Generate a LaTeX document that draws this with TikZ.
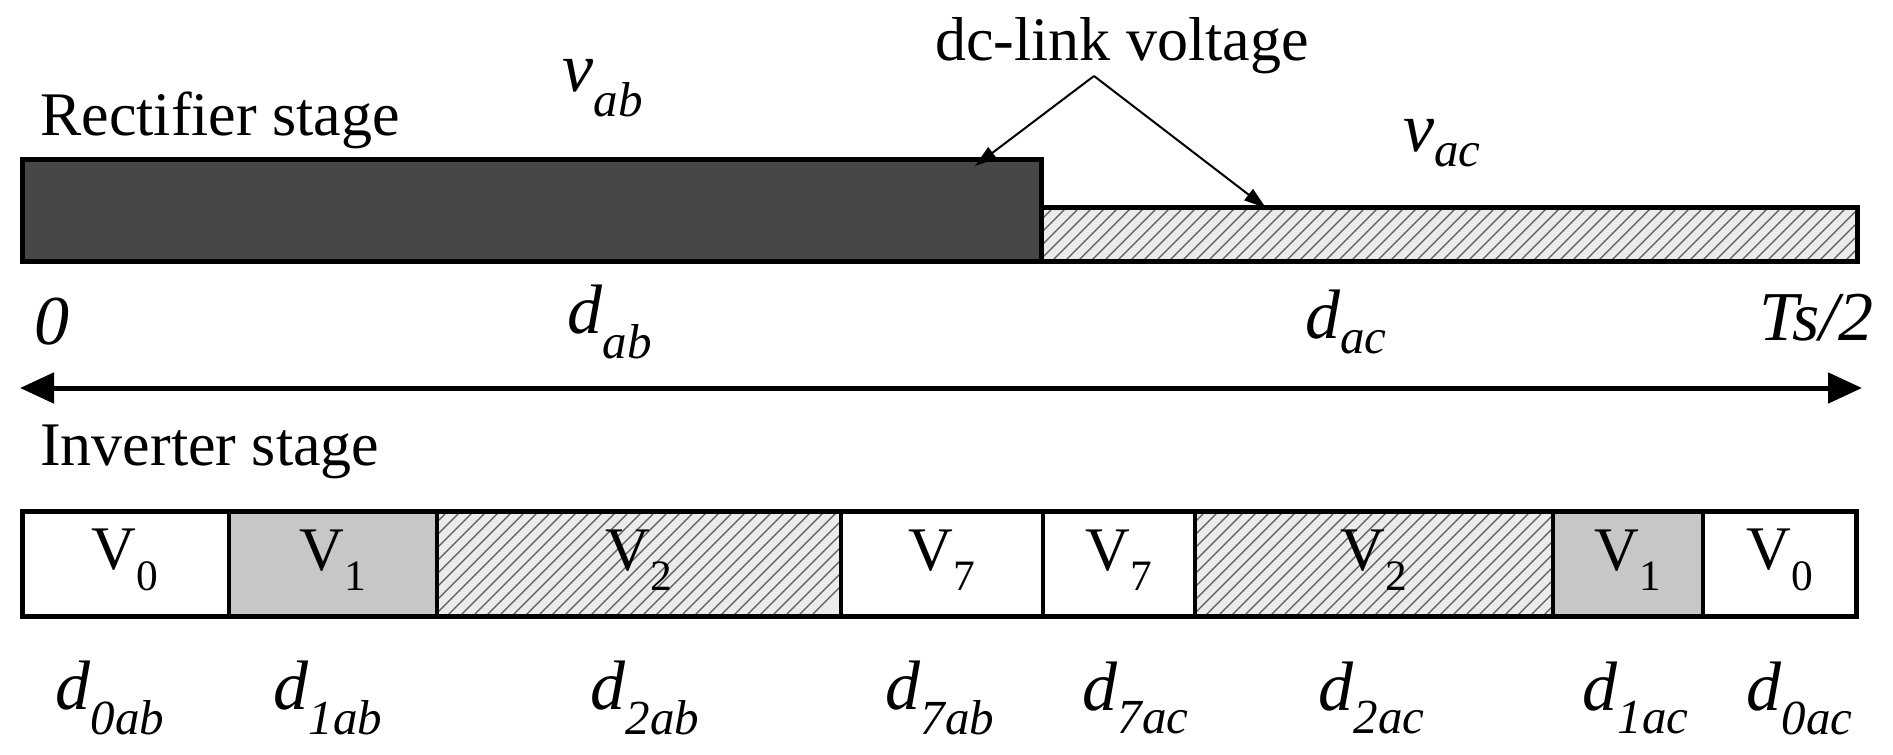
\documentclass[tikz,border=0pt]{standalone}
\usepackage{fontspec}
\setmainfont{Liberation Serif}
\usetikzlibrary{arrows.meta}
\newcommand\lbl[2]{\textit{#1}\textsubscript{\textit{#2}}}
\newcommand\vv[1]{V\textsubscript{#1}}
\begin{document}
\begin{tikzpicture}[x=1pt,y=-1pt,
  box/.style={draw=black,line width=5pt},
  hatchline/.style={gray!70!black,line width=1.3pt},
  txt/.style={font=\fontsize{62}{68}\selectfont,inner sep=0pt},
  itl/.style={font=\fontsize{70}{76}\selectfont,inner sep=0pt},
  vl/.style={font=\fontsize{62}{68}\selectfont,inner sep=0pt},
  arr/.style={line width=2pt,-{Triangle[length=22pt,width=14pt]}}]
\useasboundingbox (0,0) rectangle (1893,755);
% rectifier stage
\fill[fill=black!72] (22,159) rectangle (1041,261);
\begin{scope}
\clip (1041,207) rectangle (1857,261);
\fill[black!8] (1041,207) rectangle (1857,261);
\foreach \i in {0,13,...,900} {\draw[hatchline] (1000+\i,261) -- (1060+\i,201);}
\end{scope}
\draw[box] (22,159) rectangle (1041,261);
\draw[box] (1041,207) rectangle (1857,261);
\node[txt,anchor=west] (rs) at (40,120) {Rectifier stage};
\node[itl] (vab) at (603,88) {\lbl{v}{ab}};
\node[itl] (vac) at (1442,143) {\lbl{v}{ac}};
\node[txt] (dc) at (1122,46) {dc-link voltage};
\coordinate (split) at (1094,76);
\coordinate (t1) at (975,166);
\coordinate (t2) at (1266,208);
\draw[arr] (split) -- (t1);
\draw[arr] (split) -- (t2);
\node[itl] (z) at (52,322) {\textit{0}};
\node[itl] (dab) at (610,322) {\lbl{d}{ab}};
\node[itl] (dac) at (1346,322) {\lbl{d}{ac}};
\node[itl,anchor=east] (ts) at (1874,318) {\textit{Ts/2}};
\coordinate (al) at (20,388);
\coordinate (ar) at (1862,388);
\draw[line width=5pt,{Triangle[length=34pt,width=30pt]}-{Triangle[length=34pt,width=30pt]}] (al) -- (ar);
\node[txt,anchor=west] (is) at (40,452) {Inverter stage};
% inverter stage
\fill[black!22] (229,511) rectangle (437,616);
\fill[black!22] (1553,511) rectangle (1703,616);
\foreach \a/\b in {437/841,1195/1553} {
\begin{scope}
\clip (\a,511) rectangle (\b,616);
\fill[black!8] (\a,511) rectangle (\b,616);
\foreach \i in {0,13,...,500} {\draw[hatchline] (\a-120+\i,616) -- (\a-10+\i,506);}
\end{scope}}
\draw[box] (22,511) rectangle (1856,616);
\foreach \x in {229,437,841,1043,1195,1553,1703} {\draw[line width=3.5pt] (\x,511) -- (\x,616);}
\node[vl] (b1) at (125,560) {\vv{0}};
\node[vl] (b2) at (333,560) {\vv{1}};
\node[vl] (b3) at (639,560) {\vv{2}};
\node[vl] (b4) at (942,560) {\vv{7}};
\node[vl] (b5) at (1119,560) {\vv{7}};
\node[vl] (b6) at (1374,560) {\vv{2}};
\node[vl] (b7) at (1628,560) {\vv{1}};
\node[vl] (b8) at (1780,560) {\vv{0}};
\node[itl] (l1) at (110,698) {\lbl{d}{0ab}};
\node[itl] (l2) at (328,698) {\lbl{d}{1ab}};
\node[itl] (l3) at (645,698) {\lbl{d}{2ab}};
\node[itl] (l4) at (940,698) {\lbl{d}{7ab}};
\node[itl] (l5) at (1136,698) {\lbl{d}{7ac}};
\node[itl] (l6) at (1372,698) {\lbl{d}{2ac}};
\node[itl] (l7) at (1636,698) {\lbl{d}{1ac}};
\node[itl] (l8) at (1800,698) {\lbl{d}{0ac}};
\end{tikzpicture}
\end{document}
